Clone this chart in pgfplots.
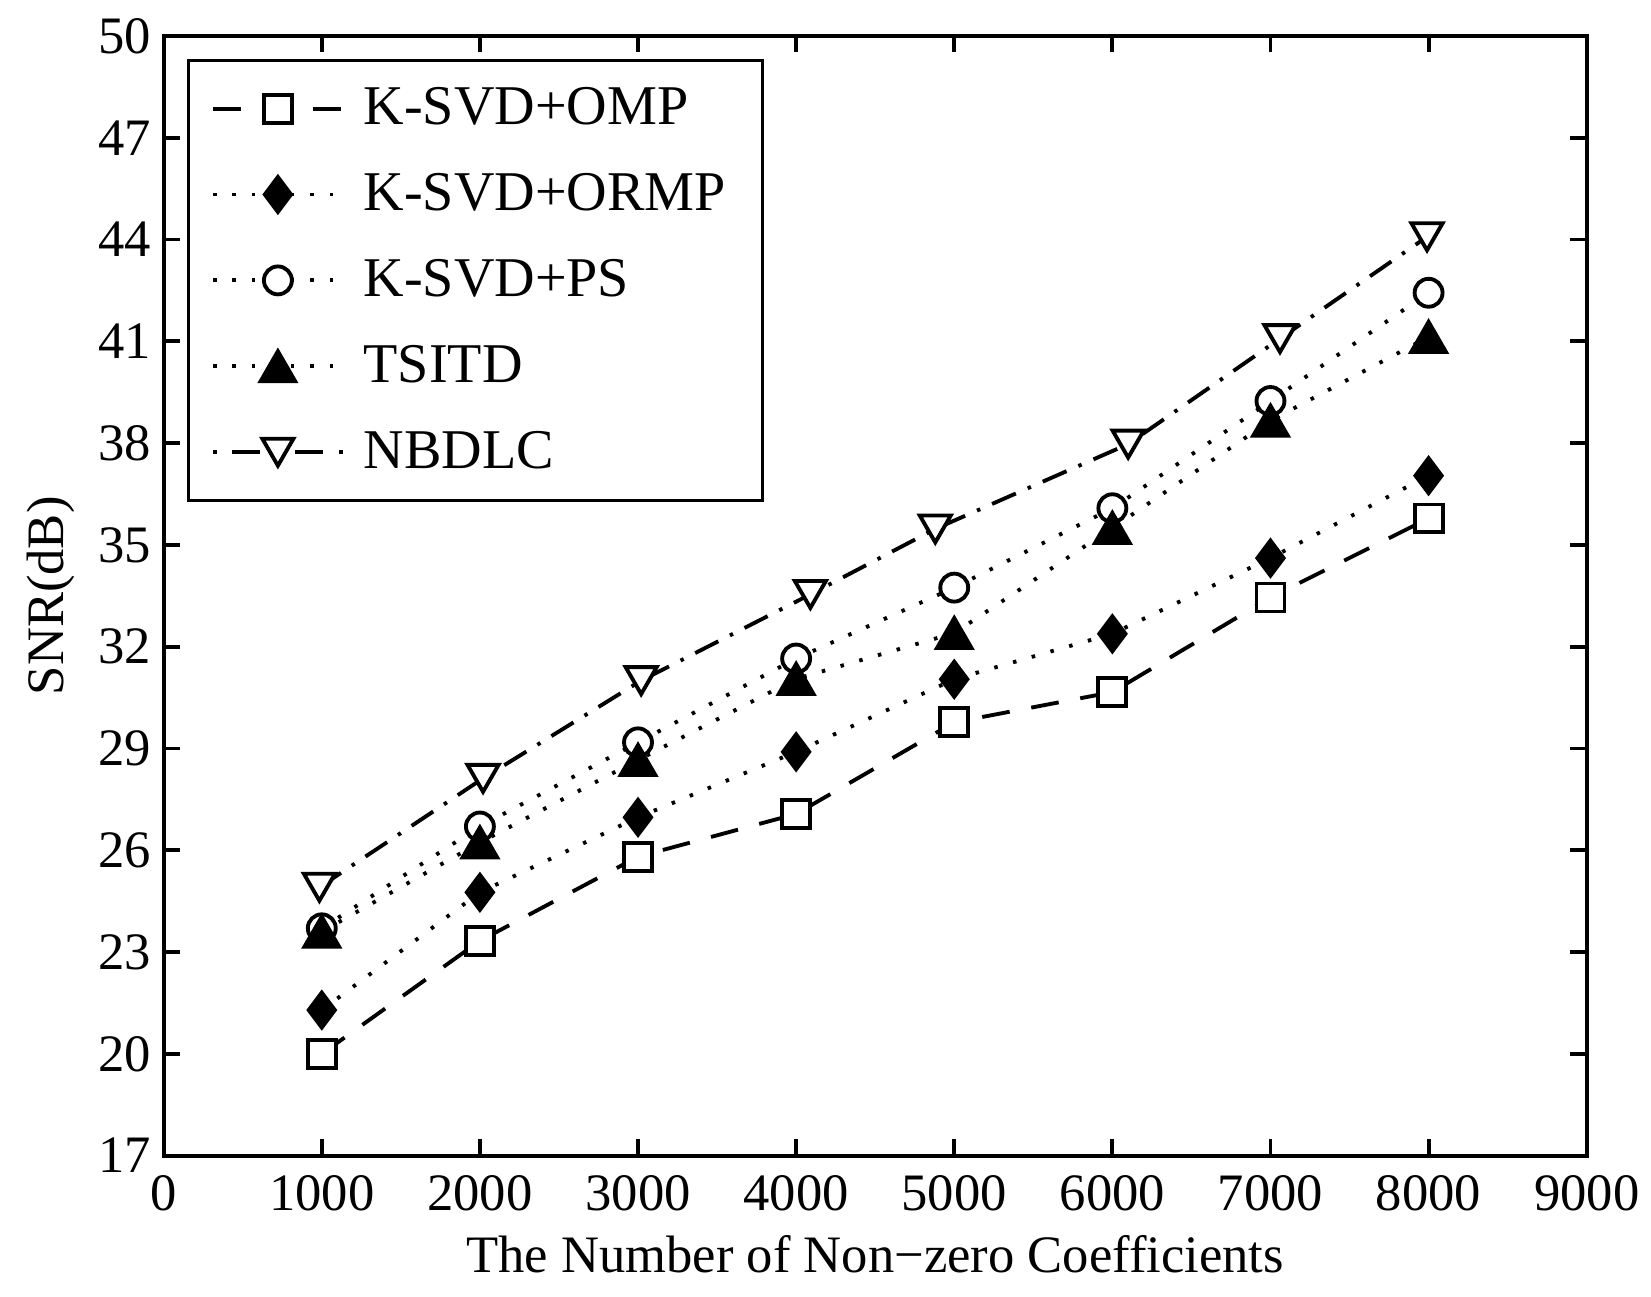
\documentclass[border=0pt]{standalone}
\usepackage{fontspec}
\setmainfont{Liberation Serif}
\usepackage{pgfplots}
\pgfplotsset{compat=1.18}
\begin{document}
\begin{tikzpicture}
\begin{axis}[
  name=ax,
  scale only axis,
  width=14.26cm, height=11.22cm,
  xmin=0, xmax=9000, ymin=17, ymax=50,
  xtick={0,1000,...,9000},
  ytick={17,20,...,50},
  tick align=inside,
  major tick length=0.165cm,
  axis line style={line width=1.1pt},
  every tick/.style={line width=1.1pt,black},
  /pgf/number format/assume math mode=true,
  /pgf/number format/1000 sep={},
  scaled x ticks=false,
  tick label style={font=\fontsize{15}{18}\selectfont},
  xticklabel style={yshift=-0.08cm},
  label style={font=\fontsize{15}{18}\selectfont},
  xlabel={The Number of Non−zero Coefficients},
  ylabel={SNR(dB)},
  legend style={at={(0.0161,0.9795)}, anchor=north west, draw=black, line width=0.9pt,
    font=\fontsize{16}{19}\selectfont, inner xsep=0.23cm, inner ysep=0.2cm,
    row sep=0.295cm, cells={anchor=west}},
  legend cell align=left,
  legend image code/.code={\draw[mark repeat=2,mark phase=2,#1] plot coordinates {(0cm,0cm) (0.65cm,0cm) (1.3cm,0cm)}; \path (1.42cm,0cm);},
]
\addplot[black, line width=1.1pt, dash pattern=on 0.28cm off 0.22cm, mark=square*, mark size=0.14cm, mark options={solid,fill=white}]
coordinates {(1000,20.0)(2000,23.33)(3000,25.81)(4000,27.07)(5000,29.77)(6000,30.66)(7000,33.45)(8000,35.78)};
\addlegendentry{K-SVD+OMP}
\addplot[black, line width=1.1pt, dash pattern=on 0.035cm off 0.16cm, mark=diamond*, mark size=0.175cm, mark options={solid,fill=black}]
coordinates {(1000,21.29)(2000,24.76)(3000,26.97)(4000,28.9)(5000,31.04)(6000,32.38)(7000,34.61)(8000,37.04)};
\addlegendentry{K-SVD+ORMP\kern0.07cm}
\addplot[black, line width=1.1pt, dash pattern=on 0.035cm off 0.16cm, mark=*, mark size=0.14cm, mark options={solid,fill=white}]
coordinates {(1000,23.7)(2000,26.7)(3000,29.18)(4000,31.65)(5000,33.74)(6000,36.08)(7000,39.24)(8000,42.43)};
\addlegendentry{K-SVD+PS}
\addplot[black, line width=1.1pt, dash pattern=on 0.035cm off 0.16cm, mark=triangle*, mark size=0.2cm, mark options={solid,fill=black,yshift=-0.05cm}]
coordinates {(1000,23.6)(2000,26.23)(3000,28.66)(4000,31.05)(5000,32.4)(6000,35.5)(7000,38.66)(8000,41.13)};
\addlegendentry{TSITD}
\addplot[forget plot, black, line width=1.1pt, dash pattern=on 0.26cm off 0.13cm on 0.035cm off 0.13cm, mark=triangle*, mark size=0.18cm, mark options={solid,fill=white,rotate=180,yshift=-0.045cm}]
coordinates {(985,24.91)(2020,28.12)(3020,31.0)(4090,33.54)(4880,35.47)(6100,37.97)(7060,41.08)(7990,44.08)};
\addlegendimage{black, line width=1.1pt, dash pattern=on 0.035cm off 0.16cm on 0.28cm off 0.35cm on 0.28cm off 0.16cm on 0.035cm off 1cm, mark=triangle*, mark size=0.18cm, mark options={solid,fill=white,rotate=180,yshift=-0.045cm}}
\addlegendentry{NBDLC}
\end{axis}
\path ([xshift=-1.64cm,yshift=-1.41cm]ax.south west) rectangle ([xshift=0.61cm,yshift=0.36cm]ax.north east);
\end{tikzpicture}
\end{document}
